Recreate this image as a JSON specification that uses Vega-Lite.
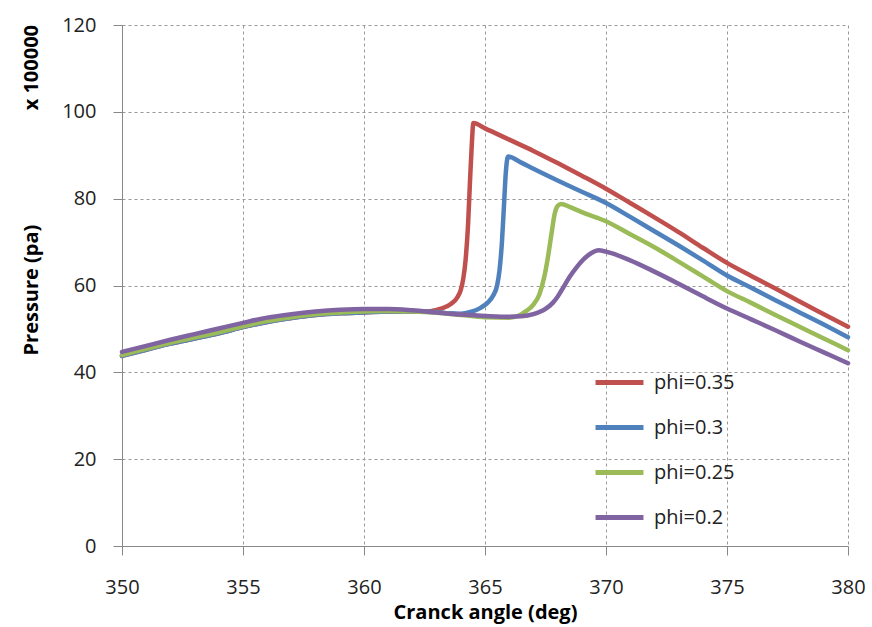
{
  "$schema": "https://vega.github.io/schema/vega-lite/v6.json",
  "width": 726,
  "height": 521,
  "autosize": {"type": "none"},
  "padding": {"left": 122, "top": 25, "right": 24, "bottom": 81},
  "background": "white",
  "config": {
    "view": {"stroke": null},
    "font": "Open Sans"
  },
  "data": {"values": [
    {"a":350,"p":43.8,"s":"phi=0.35"},{"a":351,"p":45.2,"s":"phi=0.35"},{"a":352,"p":46.6,"s":"phi=0.35"},{"a":353,"p":47.8,"s":"phi=0.35"},{"a":354,"p":49.0,"s":"phi=0.35"},{"a":355,"p":50.4,"s":"phi=0.35"},{"a":356,"p":51.6,"s":"phi=0.35"},{"a":357,"p":52.5,"s":"phi=0.35"},{"a":358,"p":53.2,"s":"phi=0.35"},{"a":359,"p":53.6,"s":"phi=0.35"},{"a":360,"p":53.8,"s":"phi=0.35"},{"a":361,"p":54.0,"s":"phi=0.35"},{"a":362,"p":54.0,"s":"phi=0.35"},{"a":362.6,"p":54.0,"s":"phi=0.35"},{"a":363.0,"p":54.4,"s":"phi=0.35"},{"a":363.3,"p":54.9,"s":"phi=0.35"},{"a":363.6,"p":55.8,"s":"phi=0.35"},{"a":363.85,"p":57.2,"s":"phi=0.35"},{"a":364.0,"p":59.0,"s":"phi=0.35"},{"a":364.1,"p":61.5,"s":"phi=0.35"},{"a":364.2,"p":66,"s":"phi=0.35"},{"a":364.3,"p":74,"s":"phi=0.35"},{"a":364.38,"p":84,"s":"phi=0.35"},{"a":364.45,"p":92,"s":"phi=0.35"},{"a":364.52,"p":97.4,"s":"phi=0.35"},{"a":365,"p":96.2,"s":"phi=0.35"},{"a":366,"p":93.6,"s":"phi=0.35"},{"a":367,"p":91.0,"s":"phi=0.35"},{"a":368,"p":88.2,"s":"phi=0.35"},{"a":369,"p":85.3,"s":"phi=0.35"},{"a":370,"p":82.3,"s":"phi=0.35"},{"a":371,"p":79.0,"s":"phi=0.35"},{"a":372,"p":75.7,"s":"phi=0.35"},{"a":373,"p":72.3,"s":"phi=0.35"},{"a":374,"p":68.7,"s":"phi=0.35"},{"a":375,"p":65.2,"s":"phi=0.35"},{"a":376,"p":62.2,"s":"phi=0.35"},{"a":377,"p":59.3,"s":"phi=0.35"},{"a":378,"p":56.3,"s":"phi=0.35"},{"a":379,"p":53.4,"s":"phi=0.35"},{"a":380,"p":50.5,"s":"phi=0.35"},

    {"a":350,"p":43.8,"s":"phi=0.3"},{"a":351,"p":45.2,"s":"phi=0.3"},{"a":352,"p":46.6,"s":"phi=0.3"},{"a":353,"p":47.8,"s":"phi=0.3"},{"a":354,"p":49.0,"s":"phi=0.3"},{"a":355,"p":50.4,"s":"phi=0.3"},{"a":356,"p":51.6,"s":"phi=0.3"},{"a":357,"p":52.5,"s":"phi=0.3"},{"a":358,"p":53.2,"s":"phi=0.3"},{"a":359,"p":53.6,"s":"phi=0.3"},{"a":360,"p":53.8,"s":"phi=0.3"},{"a":361,"p":54.0,"s":"phi=0.3"},{"a":362,"p":54.0,"s":"phi=0.3"},{"a":363,"p":53.9,"s":"phi=0.3"},{"a":363.5,"p":53.6,"s":"phi=0.3"},{"a":364.0,"p":53.5,"s":"phi=0.3"},{"a":364.4,"p":53.9,"s":"phi=0.3"},{"a":364.8,"p":54.8,"s":"phi=0.3"},{"a":365.1,"p":56.0,"s":"phi=0.3"},{"a":365.35,"p":57.8,"s":"phi=0.3"},{"a":365.5,"p":60.0,"s":"phi=0.3"},{"a":365.6,"p":63.5,"s":"phi=0.3"},{"a":365.7,"p":70,"s":"phi=0.3"},{"a":365.78,"p":78,"s":"phi=0.3"},{"a":365.86,"p":86,"s":"phi=0.3"},{"a":365.95,"p":89.7,"s":"phi=0.3"},{"a":366.5,"p":88.3,"s":"phi=0.3"},{"a":367,"p":86.9,"s":"phi=0.3"},{"a":368,"p":84.2,"s":"phi=0.3"},{"a":369,"p":81.6,"s":"phi=0.3"},{"a":370,"p":79.0,"s":"phi=0.3"},{"a":371,"p":75.8,"s":"phi=0.3"},{"a":372,"p":72.5,"s":"phi=0.3"},{"a":373,"p":69.2,"s":"phi=0.3"},{"a":374,"p":65.8,"s":"phi=0.3"},{"a":375,"p":62.3,"s":"phi=0.3"},{"a":376,"p":59.5,"s":"phi=0.3"},{"a":377,"p":56.6,"s":"phi=0.3"},{"a":378,"p":53.8,"s":"phi=0.3"},{"a":379,"p":51.0,"s":"phi=0.3"},{"a":380,"p":48.1,"s":"phi=0.3"},

    {"a":350,"p":44.0,"s":"phi=0.25"},{"a":351,"p":45.4,"s":"phi=0.25"},{"a":352,"p":46.8,"s":"phi=0.25"},{"a":353,"p":48.0,"s":"phi=0.25"},{"a":354,"p":49.2,"s":"phi=0.25"},{"a":355,"p":50.6,"s":"phi=0.25"},{"a":356,"p":51.8,"s":"phi=0.25"},{"a":357,"p":52.7,"s":"phi=0.25"},{"a":358,"p":53.4,"s":"phi=0.25"},{"a":359,"p":53.8,"s":"phi=0.25"},{"a":360,"p":54.0,"s":"phi=0.25"},{"a":361,"p":54.1,"s":"phi=0.25"},{"a":362,"p":54.0,"s":"phi=0.25"},{"a":363,"p":53.7,"s":"phi=0.25"},{"a":364,"p":53.2,"s":"phi=0.25"},{"a":365,"p":52.7,"s":"phi=0.25"},{"a":366,"p":52.6,"s":"phi=0.25"},{"a":366.4,"p":53.1,"s":"phi=0.25"},{"a":366.7,"p":54.1,"s":"phi=0.25"},{"a":367.0,"p":55.6,"s":"phi=0.25"},{"a":367.25,"p":58.0,"s":"phi=0.25"},{"a":367.45,"p":62,"s":"phi=0.25"},{"a":367.6,"p":66.5,"s":"phi=0.25"},{"a":367.75,"p":72,"s":"phi=0.25"},{"a":367.88,"p":76.5,"s":"phi=0.25"},{"a":368.0,"p":78.3,"s":"phi=0.25"},{"a":368.15,"p":78.8,"s":"phi=0.25"},{"a":368.5,"p":78.1,"s":"phi=0.25"},{"a":369,"p":76.9,"s":"phi=0.25"},{"a":370,"p":74.8,"s":"phi=0.25"},{"a":371,"p":71.8,"s":"phi=0.25"},{"a":372,"p":68.8,"s":"phi=0.25"},{"a":373,"p":65.5,"s":"phi=0.25"},{"a":374,"p":62.1,"s":"phi=0.25"},{"a":375,"p":58.7,"s":"phi=0.25"},{"a":376,"p":56.0,"s":"phi=0.25"},{"a":377,"p":53.2,"s":"phi=0.25"},{"a":378,"p":50.5,"s":"phi=0.25"},{"a":379,"p":47.8,"s":"phi=0.25"},{"a":380,"p":45.1,"s":"phi=0.25"},

    {"a":350,"p":44.7,"s":"phi=0.2"},{"a":351,"p":46.1,"s":"phi=0.2"},{"a":352,"p":47.5,"s":"phi=0.2"},{"a":353,"p":48.8,"s":"phi=0.2"},{"a":354,"p":50.1,"s":"phi=0.2"},{"a":355,"p":51.4,"s":"phi=0.2"},{"a":356,"p":52.6,"s":"phi=0.2"},{"a":357,"p":53.4,"s":"phi=0.2"},{"a":358,"p":54.0,"s":"phi=0.2"},{"a":359,"p":54.4,"s":"phi=0.2"},{"a":360,"p":54.6,"s":"phi=0.2"},{"a":361,"p":54.6,"s":"phi=0.2"},{"a":362,"p":54.3,"s":"phi=0.2"},{"a":363,"p":53.8,"s":"phi=0.2"},{"a":364,"p":53.3,"s":"phi=0.2"},{"a":365,"p":53.0,"s":"phi=0.2"},{"a":366,"p":52.8,"s":"phi=0.2"},{"a":366.5,"p":52.9,"s":"phi=0.2"},{"a":367,"p":53.4,"s":"phi=0.2"},{"a":367.5,"p":54.6,"s":"phi=0.2"},{"a":367.8,"p":56.0,"s":"phi=0.2"},{"a":368.0,"p":57.4,"s":"phi=0.2"},{"a":368.25,"p":59.7,"s":"phi=0.2"},{"a":368.5,"p":62.0,"s":"phi=0.2"},{"a":368.8,"p":64.3,"s":"phi=0.2"},{"a":369.1,"p":66.2,"s":"phi=0.2"},{"a":369.4,"p":67.5,"s":"phi=0.2"},{"a":369.7,"p":68.1,"s":"phi=0.2"},{"a":370,"p":67.8,"s":"phi=0.2"},{"a":371,"p":65.8,"s":"phi=0.2"},{"a":372,"p":63.2,"s":"phi=0.2"},{"a":373,"p":60.4,"s":"phi=0.2"},{"a":374,"p":57.5,"s":"phi=0.2"},{"a":375,"p":54.7,"s":"phi=0.2"},{"a":376,"p":52.2,"s":"phi=0.2"},{"a":377,"p":49.7,"s":"phi=0.2"},{"a":378,"p":47.1,"s":"phi=0.2"},{"a":379,"p":44.6,"s":"phi=0.2"},{"a":380,"p":42.1,"s":"phi=0.2"}
  ]},
  "mark": {"type": "line", "strokeWidth": 4.5, "interpolate": "monotone", "strokeCap": "round"},
  "encoding": {
    "x": {
      "field": "a", "type": "quantitative",
      "scale": {"domain": [350, 380], "nice": false, "zero": false},
      "axis": {
        "values": [350, 355, 360, 365, 370, 375, 380],
        "title": "Cranck angle (deg)",
        "titleFont": "Open Sans", "titleFontSize": 20, "titleFontWeight": "bold", "titleColor": "#000",
        "titlePadding": 5,
        "labelFont": "Open Sans", "labelFontSize": 20, "labelColor": "#222", "labelPadding": 22, "labelFlush": false,
        "tickSize": 9, "tickColor": "#888", "domainColor": "#888", "domainWidth": 1,
        "grid": true, "gridColor": "#999", "gridDash": [3, 3], "gridWidth": 1
      }
    },
    "y": {
      "field": "p", "type": "quantitative",
      "scale": {"domain": [0, 120], "nice": false},
      "axis": {
        "values": [0, 20, 40, 60, 80, 100, 120],
        "title": "Pressure (pa)\u00a0\u00a0\u00a0\u00a0\u00a0\u00a0\u00a0\u00a0\u00a0\u00a0\u00a0\u00a0\u00a0\u00a0\u00a0\u00a0\u00a0\u00a0\u00a0\u00a0\u00a0\u00a0x 100000",
        "titleFont": "Open Sans", "titleFontSize": 20, "titleFontWeight": "bold", "titleColor": "#000",
        "titleAngle": -90, "titleAlign": "left", "titleBaseline": "middle",
        "titleX": -91, "titleY": 330,
        "labelFont": "Open Sans", "labelFontSize": 20, "labelColor": "#222", "labelPadding": 17, "labelFlush": false,
        "tickSize": 9, "tickColor": "#888", "domainColor": "#888", "domainWidth": 1,
        "grid": true, "gridColor": "#999", "gridDash": [3, 3], "gridWidth": 1
      }
    },
    "color": {
      "field": "s", "type": "nominal",
      "scale": {"domain": ["phi=0.35", "phi=0.3", "phi=0.25", "phi=0.2"], "range": ["#C0504D", "#4F81BD", "#9BBB59", "#8064A2"]},
      "legend": {
        "title": null, "orient": "none", "legendX": 471, "legendY": 331,
        "symbolType": "stroke", "symbolStrokeWidth": 5, "symbolSize": 2300,
        "labelFont": "Open Sans", "labelFontSize": 20, "labelColor": "#222", "labelOffset": 8,
        "rowPadding": 8
      }
    }
  }
}
